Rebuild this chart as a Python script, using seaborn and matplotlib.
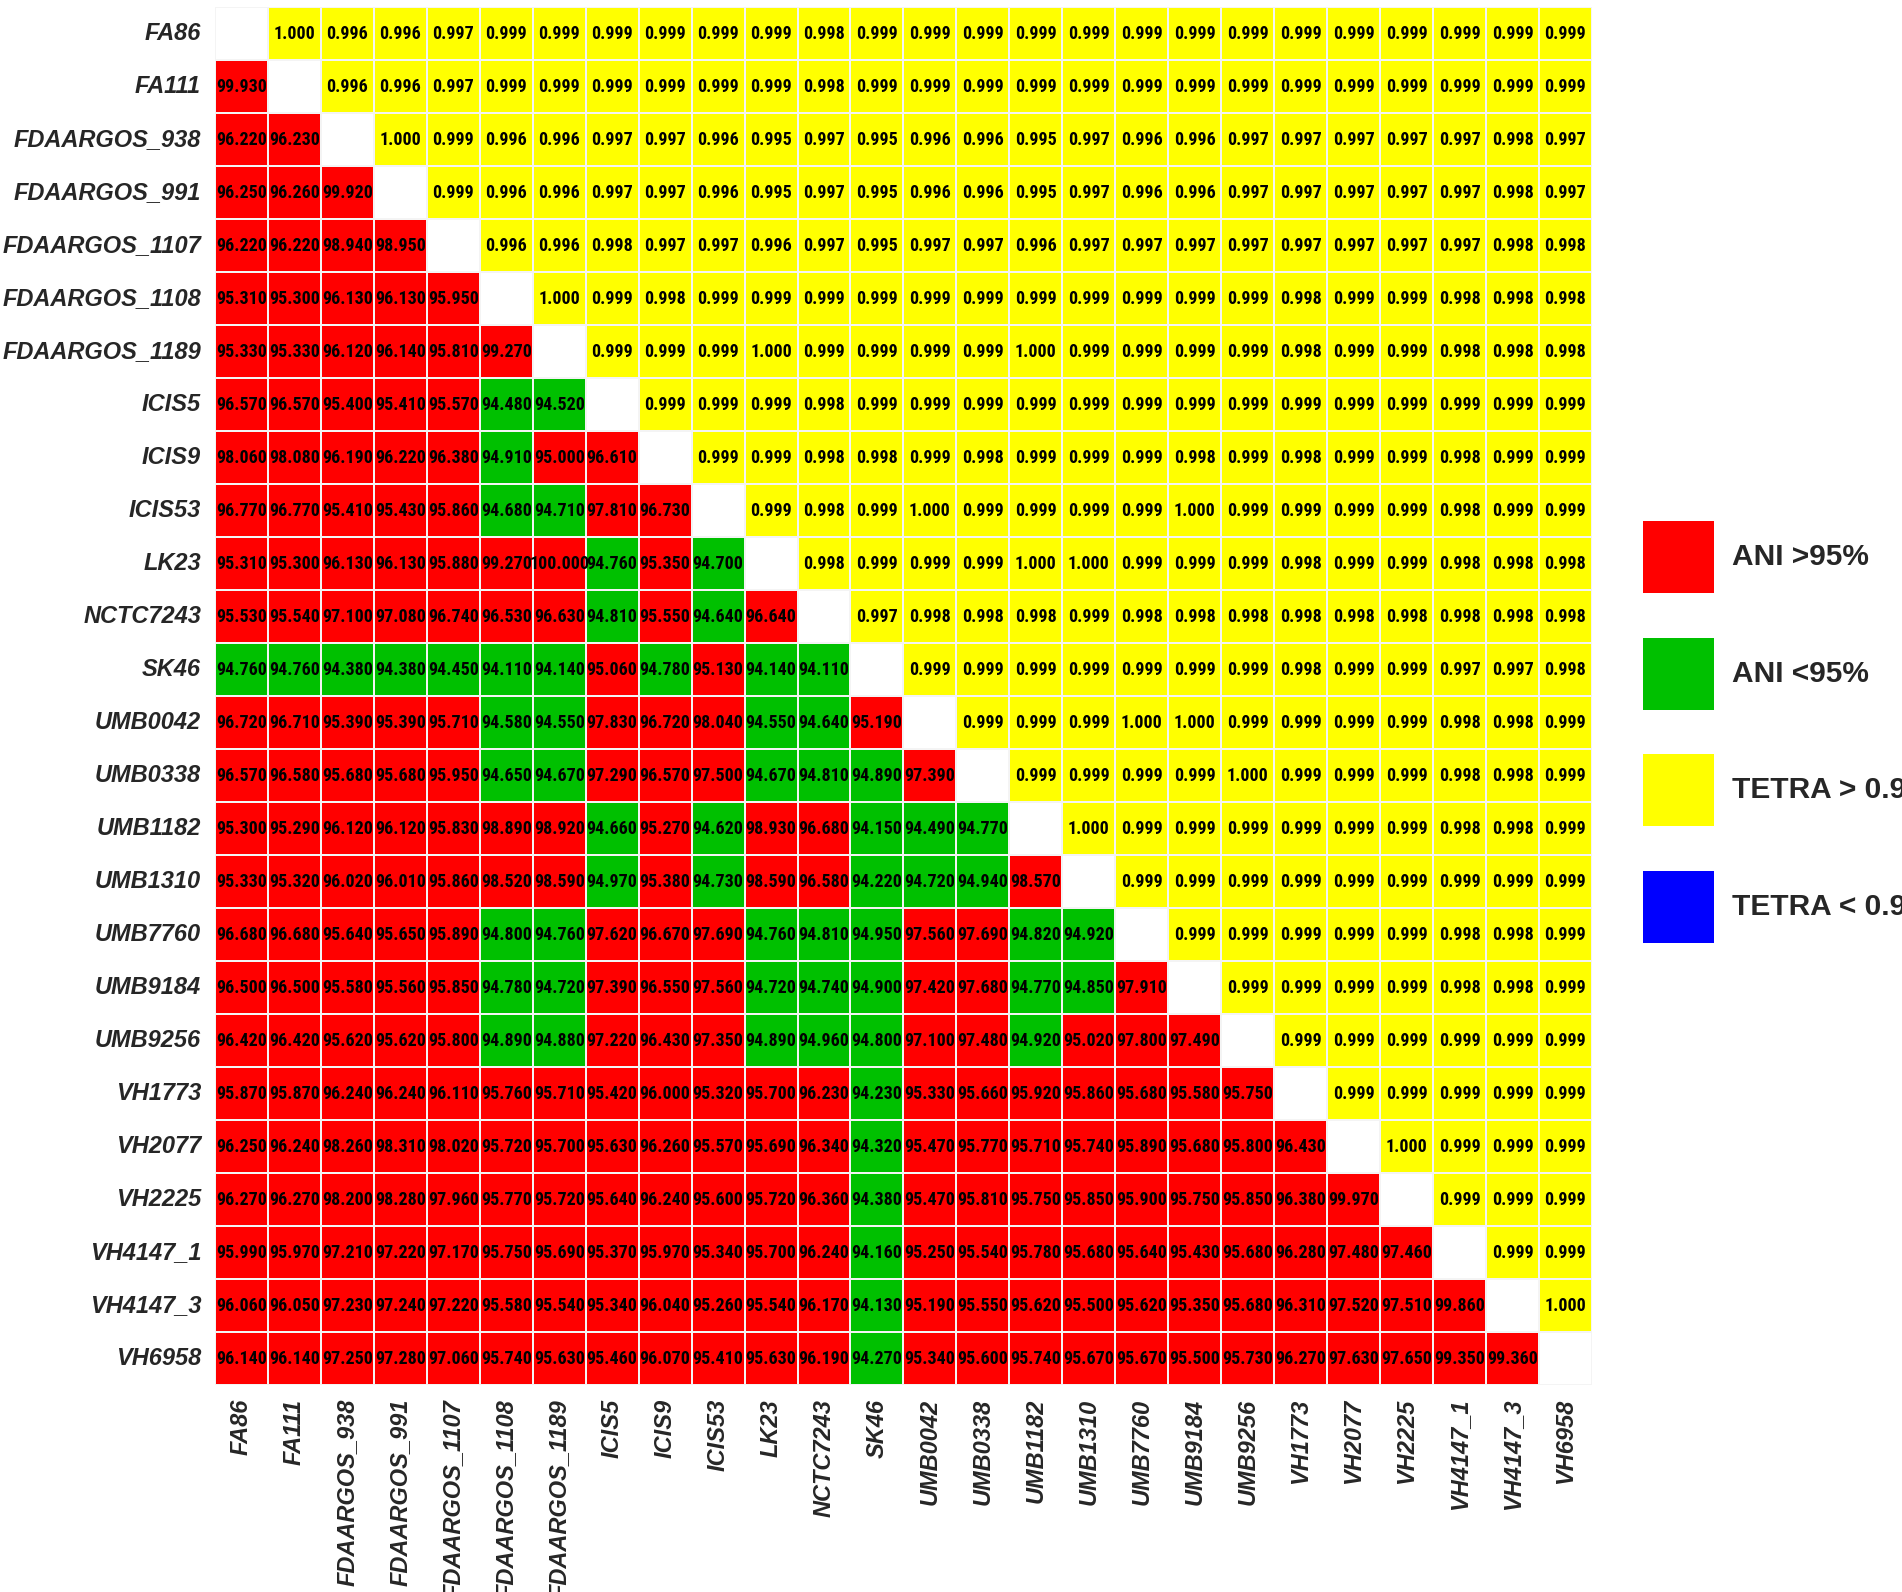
import numpy as np
import pandas as pd
import matplotlib
matplotlib.use("Agg")
import matplotlib.pyplot as plt
from matplotlib.colors import ListedColormap
from matplotlib.patches import Rectangle
import seaborn as sns

strains = ["FA86", "FA111", "FDAARGOS_938", "FDAARGOS_991", "FDAARGOS_1107",
           "FDAARGOS_1108", "FDAARGOS_1189", "ICIS5", "ICIS9", "ICIS53", "LK23",
           "NCTC7243", "SK46", "UMB0042", "UMB0338", "UMB1182", "UMB1310",
           "UMB7760", "UMB9184", "UMB9256", "VH1773", "VH2077", "VH2225",
           "VH4147_1", "VH4147_3", "VH6958"]

# ANI values (lower triangle), row i has columns 0..i-1
ani_rows = [
    [],
    [99.930],
    [96.220, 96.230],
    [96.250, 96.260, 99.920],
    [96.220, 96.220, 98.940, 98.950],
    [95.310, 95.300, 96.130, 96.130, 95.950],
    [95.330, 95.330, 96.120, 96.140, 95.810, 99.270],
    [96.570, 96.570, 95.400, 95.410, 95.570, 94.480, 94.520],
    [98.060, 98.080, 96.190, 96.220, 96.380, 94.910, 95.000, 96.610],
    [96.770, 96.770, 95.410, 95.430, 95.860, 94.680, 94.710, 97.810, 96.730],
    [95.310, 95.300, 96.130, 96.130, 95.880, 99.270, 100.000, 94.760, 95.350, 94.700],
    [95.530, 95.540, 97.100, 97.080, 96.740, 96.530, 96.630, 94.810, 95.550, 94.640, 96.640],
    [94.760, 94.760, 94.380, 94.380, 94.450, 94.110, 94.140, 95.060, 94.780, 95.130, 94.140, 94.110],
    [96.720, 96.710, 95.390, 95.390, 95.710, 94.580, 94.550, 97.830, 96.720, 98.040, 94.550, 94.640, 95.190],
    [96.570, 96.580, 95.680, 95.680, 95.950, 94.650, 94.670, 97.290, 96.570, 97.500, 94.670, 94.810, 94.890, 97.390],
    [95.300, 95.290, 96.120, 96.120, 95.830, 98.890, 98.920, 94.660, 95.270, 94.620, 98.930, 96.680, 94.150, 94.490, 94.770],
    [95.330, 95.320, 96.020, 96.010, 95.860, 98.520, 98.590, 94.970, 95.380, 94.730, 98.590, 96.580, 94.220, 94.720, 94.940, 98.570],
    [96.680, 96.680, 95.640, 95.650, 95.890, 94.800, 94.760, 97.620, 96.670, 97.690, 94.760, 94.810, 94.950, 97.560, 97.690, 94.820, 94.920],
    [96.500, 96.500, 95.580, 95.560, 95.850, 94.780, 94.720, 97.390, 96.550, 97.560, 94.720, 94.740, 94.900, 97.420, 97.680, 94.770, 94.850, 97.910],
    [96.420, 96.420, 95.620, 95.620, 95.800, 94.890, 94.880, 97.220, 96.430, 97.350, 94.890, 94.960, 94.800, 97.100, 97.480, 94.920, 95.020, 97.800, 97.490],
    [95.870, 95.870, 96.240, 96.240, 96.110, 95.760, 95.710, 95.420, 96.000, 95.320, 95.700, 96.230, 94.230, 95.330, 95.660, 95.920, 95.860, 95.680, 95.580, 95.750],
    [96.250, 96.240, 98.260, 98.310, 98.020, 95.720, 95.700, 95.630, 96.260, 95.570, 95.690, 96.340, 94.320, 95.470, 95.770, 95.710, 95.740, 95.890, 95.680, 95.800, 96.430],
    [96.270, 96.270, 98.200, 98.280, 97.960, 95.770, 95.720, 95.640, 96.240, 95.600, 95.720, 96.360, 94.380, 95.470, 95.810, 95.750, 95.850, 95.900, 95.750, 95.850, 96.380, 99.970],
    [95.990, 95.970, 97.210, 97.220, 97.170, 95.750, 95.690, 95.370, 95.970, 95.340, 95.700, 96.240, 94.160, 95.250, 95.540, 95.780, 95.680, 95.640, 95.430, 95.680, 96.280, 97.480, 97.460],
    [96.060, 96.050, 97.230, 97.240, 97.220, 95.580, 95.540, 95.340, 96.040, 95.260, 95.540, 96.170, 94.130, 95.190, 95.550, 95.620, 95.500, 95.620, 95.350, 95.680, 96.310, 97.520, 97.510, 99.860],
    [96.140, 96.140, 97.250, 97.280, 97.060, 95.740, 95.630, 95.460, 96.070, 95.410, 95.630, 96.190, 94.270, 95.340, 95.600, 95.740, 95.670, 95.670, 95.500, 95.730, 96.270, 97.630, 97.650, 99.350, 99.360],
]

# TETRA values (upper triangle), row i has columns i+1..25
tetra_rows = [
    [1.000, 0.996, 0.996, 0.997, 0.999, 0.999, 0.999, 0.999, 0.999, 0.999, 0.998, 0.999, 0.999, 0.999, 0.999, 0.999, 0.999, 0.999, 0.999, 0.999, 0.999, 0.999, 0.999, 0.999, 0.999],
    [0.996, 0.996, 0.997, 0.999, 0.999, 0.999, 0.999, 0.999, 0.999, 0.998, 0.999, 0.999, 0.999, 0.999, 0.999, 0.999, 0.999, 0.999, 0.999, 0.999, 0.999, 0.999, 0.999, 0.999],
    [1.000, 0.999, 0.996, 0.996, 0.997, 0.997, 0.996, 0.995, 0.997, 0.995, 0.996, 0.996, 0.995, 0.997, 0.996, 0.996, 0.997, 0.997, 0.997, 0.997, 0.997, 0.998, 0.997],
    [0.999, 0.996, 0.996, 0.997, 0.997, 0.996, 0.995, 0.997, 0.995, 0.996, 0.996, 0.995, 0.997, 0.996, 0.996, 0.997, 0.997, 0.997, 0.997, 0.997, 0.998, 0.997],
    [0.996, 0.996, 0.998, 0.997, 0.997, 0.996, 0.997, 0.995, 0.997, 0.997, 0.996, 0.997, 0.997, 0.997, 0.997, 0.997, 0.997, 0.997, 0.997, 0.998, 0.998],
    [1.000, 0.999, 0.998, 0.999, 0.999, 0.999, 0.999, 0.999, 0.999, 0.999, 0.999, 0.999, 0.999, 0.999, 0.998, 0.999, 0.999, 0.998, 0.998, 0.998],
    [0.999, 0.999, 0.999, 1.000, 0.999, 0.999, 0.999, 0.999, 1.000, 0.999, 0.999, 0.999, 0.999, 0.998, 0.999, 0.999, 0.998, 0.998, 0.998],
    [0.999, 0.999, 0.999, 0.998, 0.999, 0.999, 0.999, 0.999, 0.999, 0.999, 0.999, 0.999, 0.999, 0.999, 0.999, 0.999, 0.999, 0.999],
    [0.999, 0.999, 0.998, 0.998, 0.999, 0.998, 0.999, 0.999, 0.999, 0.998, 0.999, 0.998, 0.999, 0.999, 0.998, 0.999, 0.999],
    [0.999, 0.998, 0.999, 1.000, 0.999, 0.999, 0.999, 0.999, 1.000, 0.999, 0.999, 0.999, 0.999, 0.998, 0.999, 0.999],
    [0.998, 0.999, 0.999, 0.999, 1.000, 1.000, 0.999, 0.999, 0.999, 0.998, 0.999, 0.999, 0.998, 0.998, 0.998],
    [0.997, 0.998, 0.998, 0.998, 0.999, 0.998, 0.998, 0.998, 0.998, 0.998, 0.998, 0.998, 0.998, 0.998],
    [0.999, 0.999, 0.999, 0.999, 0.999, 0.999, 0.999, 0.998, 0.999, 0.999, 0.997, 0.997, 0.998],
    [0.999, 0.999, 0.999, 1.000, 1.000, 0.999, 0.999, 0.999, 0.999, 0.998, 0.998, 0.999],
    [0.999, 0.999, 0.999, 0.999, 1.000, 0.999, 0.999, 0.999, 0.998, 0.998, 0.999],
    [1.000, 0.999, 0.999, 0.999, 0.999, 0.999, 0.999, 0.998, 0.998, 0.999],
    [0.999, 0.999, 0.999, 0.999, 0.999, 0.999, 0.999, 0.999, 0.999],
    [0.999, 0.999, 0.999, 0.999, 0.999, 0.998, 0.998, 0.999],
    [0.999, 0.999, 0.999, 0.999, 0.998, 0.998, 0.999],
    [0.999, 0.999, 0.999, 0.999, 0.999, 0.999],
    [0.999, 0.999, 0.999, 0.999, 0.999],
    [1.000, 0.999, 0.999, 0.999],
    [0.999, 0.999, 0.999],
    [0.999, 0.999],
    [1.000],
    [],
]

legend_labels = ["ANI >95%", "ANI <95%", "TETRA > 0.99", "TETRA < 0.99"]
legend_colors = ["#ff0000", "#00c000", "#ffff00", "#0000ff"]

n = len(strains)
values = np.full((n, n), np.nan)
for i in range(n):
    values[i, :i] = ani_rows[i]
    values[i, i + 1:] = tetra_rows[i]

# category: 0 = ANI >95, 1 = ANI <95, 2 = TETRA >0.99, 3 = TETRA <0.99
cat = np.full((n, n), np.nan)
for i in range(n):
    for j in range(n):
        if j < i:
            cat[i, j] = 0 if values[i, j] >= 95 else 1
        elif j > i:
            cat[i, j] = 2 if values[i, j] >= 0.99 else 3

annot = np.where(np.isnan(values), "", np.vectorize(lambda v: f"{v:.3f}")(values))
cat_df = pd.DataFrame(cat, index=strains, columns=strains)

sns.set_style("white")
plt.rcParams["font.family"] = ["Liberation Sans", "DejaVu Sans"]

fig = plt.figure(figsize=(19.02, 15.92), dpi=100)
ax = fig.add_axes([0.113, 0.130, 0.724, 0.8656])

cmap = ListedColormap(legend_colors)
sns.heatmap(cat_df, ax=ax, cmap=cmap, vmin=-0.5, vmax=3.5, cbar=False,
            annot=annot, fmt="", linewidths=1.2, linecolor="#f4f4f4",
            annot_kws={"fontsize": 13, "fontweight": "bold", "color": "black",
                       "family": ["Roboto Condensed", "Fira Sans Condensed", "Liberation Sans"]})

ax.tick_params(length=0, pad=10)
ax.set_xticklabels(strains, rotation=90, fontsize=17, fontweight="bold",
                   fontstyle="italic", va="top", ha="center")
ax.set_yticklabels(strains, rotation=0, fontsize=17, fontweight="bold",
                   fontstyle="italic")
ax.set_xlabel("")
ax.set_ylabel("")

# legend boxes on the right
for k, (lab, col) in enumerate(zip(legend_labels, legend_colors)):
    y0 = 1 - (593 + k * 116.5) / 1592
    fig.add_artist(Rectangle((1643 / 1902, y0), 71 / 1902, 72 / 1592,
                             transform=fig.transFigure, facecolor=col,
                             edgecolor="none"))
    fig.text(1732 / 1902, y0 + 36 / 1592, lab, fontsize=21.5, fontweight="bold",
             va="center", ha="left")

fig.savefig("out.png", dpi=100)
